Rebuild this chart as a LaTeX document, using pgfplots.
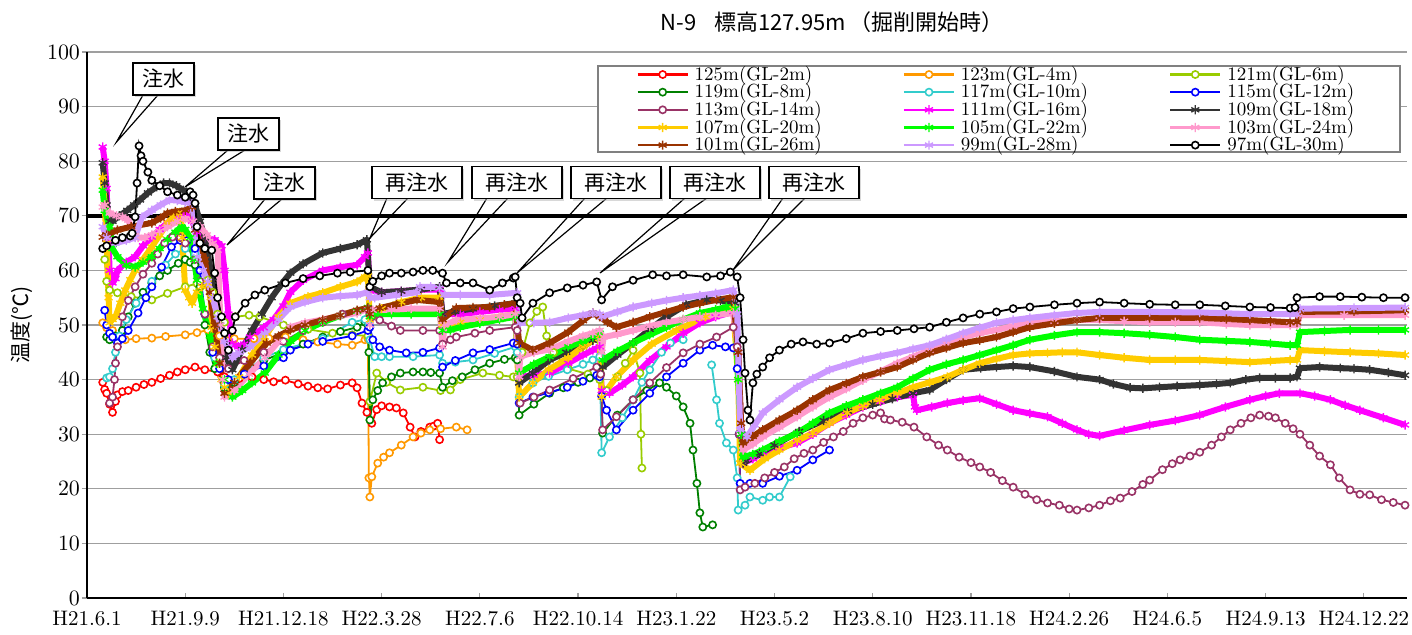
\documentclass[border=0pt]{standalone}
\usepackage{fontspec}
\usepackage{pgfplots}
\pgfplotsset{compat=1.18}
\usetikzlibrary{shadows}
\newfontfamily\jp{Noto Sans CJK JP}
\definecolor{cA}{HTML}{FF0000}
\definecolor{cB}{HTML}{FF9900}
\definecolor{cC}{HTML}{99CC00}
\definecolor{cD}{HTML}{008000}
\definecolor{cE}{HTML}{33CCCC}
\definecolor{cF}{HTML}{0000FF}
\definecolor{cG}{HTML}{993366}
\definecolor{cH}{HTML}{FF00FF}
\definecolor{cI}{HTML}{333333}
\definecolor{cJ}{HTML}{FFCC00}
\definecolor{cK}{HTML}{00FF00}
\definecolor{cL}{HTML}{FF99CC}
\definecolor{cM}{HTML}{993300}
\definecolor{cN}{HTML}{CC99FF}
\newcommand{\legtxt}[1]{\makebox[94pt][l]{#1}}
\pgfplotsset{
  circ/.style={color=#1, line width=0.9pt, mark=*, mark size=1.8pt, mark options={fill=white, draw=#1, line width=0.8pt, solid}},
  star/.style={color=#1, line width=3pt, line join=round, mark=asterisk, mark size=2.3pt, mark options={draw=#1, line width=0.7pt, solid}},
}
\tikzset{co/.style={draw=black, fill=white, line width=0.8pt, minimum height=16pt, inner sep=0pt, font=\jp\fontsize{10.5}{10.5}\selectfont, drop shadow={shadow xshift=1.2pt, shadow yshift=-1.2pt, fill=black!30}}}
\begin{document}
\begin{tikzpicture}
\begin{axis}[
  at={(0,0)}, anchor=south west,
  scale only axis, width=660pt, height=273pt,
  xmin=0, xmax=1344, ymin=0, ymax=100,
  axis x line*=bottom, axis y line*=left,
  axis line style={line width=0.8pt, black, -},
  xtick={0,100,...,1300},
  xticklabels={H21.6.1,H21.9.9,H21.12.18,H22.3.28,H22.7.6,H22.10.14,H23.1.22,H23.5.2,H23.8.10,H23.11.18,H24.2.26,H24.6.5,H24.9.13,H24.12.22},
  ytick={0,10,...,100},
  ymajorgrids, grid style={draw=gray!75, line width=0.6pt},
  tick align=inside, major tick length=2.5pt,
  xtick style={draw=gray!75, line width=0.6pt},
  ytick style={draw=gray!75, line width=0.6pt, xshift=-2.5pt},
  xticklabel style={font=\fontsize{10.5}{10.5}\selectfont, yshift=-3pt},
  yticklabel style={font=\fontsize{11}{11}\selectfont},
  unbounded coords=jump,
  legend columns=3, legend cell align=left,
  legend image code/.code={\draw[mark repeat=2,mark phase=2,#1,line width=1.3pt] plot coordinates {(0pt,0pt) (12.5pt,0pt) (25pt,0pt)}; \path (27pt,0pt);},
  legend style={at={(0.4159,0.9753)}, anchor=north west, draw=none, fill=none, inner sep=0pt, row sep=0.2pt, font=\fontsize{9.5}{9.5}\selectfont, nodes={inner sep=0pt}, /tikz/every even column/.append style={column sep=10pt}},
]
\addplot[black, line width=2pt, forget plot] coordinates {(0,70) (1344,70)};
% 125m
\addplot[circ=cA] coordinates {(16,39.5)(18,38.2)(20,37.5)(23,35.5)(26,34)(29,36)(31,37.2)(36,37.8)(42,38)(50,38.6)(58,39.1)(66,39.5)(75,40.2)(84,40.8)(92,41.4)(100,41.8)(110,42.3)(120,41.8)(133,41.4)(140,40.5)(144,39.9)(155,40.2)(168,40.5)(180,40)(190,39.6)(202,39.9)(215,39.2)(225,38.8)(235,38.5)(245,38.3)(258,39)(270,39.4)(275,38.5)(280,35.7)(285,34)(290,32)(295,34.5)(300,35.2)(308,35)(315,34.8)(322,33.9)(329,31.3)(334,29.5)(340,30.5)(349,31.3)(353,31.5)(357,32)(359,29)};
\addlegendentry{\legtxt{125m(GL-2m)}}
% 123m
\addplot[circ=cB] coordinates {(16,50.4)(20,49.5)(26,49)(32,47.5)(39,47.3)(50,47.5)(66,47.6)(80,47.9)(100,48.2)(112,48.6)(123,49.1)(135,48)(150,47.5)(170,47.5)(185,47.6)(202,47.8)(220,47.3)(235,46.9)(255,46.5)(270,46.3)(283,47.3)(286,47.5)(287,22)(288,18.5)(290,22.2)(296,24.7)(302,25.8)(308,26.6)(320,28)(332,29.5)(340,30.2)(349,30.8)(360,31)(376,31.3)(387,30.8)};
\addlegendentry{\legtxt{123m(GL-4m)}}
% 121m
\addplot[circ=cC] coordinates {(18,62)(20,58)(23,56.4)(31,55.9)(45,55.2)(66,54.6)(82,55.8)(100,57)(112,57.6)(123,58.2)(128,56)(133,52)(140,50.5)(151,51.5)(165,51.8)(176,51.5)(200,50)(225,49.2)(250,48.5)(270,48.2)(286,48)(288,36)(295,41.2)(305,39.5)(319,38.1)(342,38.6)(360,38)(370,38.1)(380,40)(403,41.2)(420,40.8)(434,40.5)(438,40.5)(443,45)(451,50.4)(458,52.5)(464,53.3)(468,48)(475,45)(490,42)(510,41)(522,40)(529,38)(540,40.5)(548,43)(556,45.4)(563,41.2)(564,30)(565,23.8)};
\addlegendentry{\legtxt{121m(GL-6m)}}
% 119m
\addplot[circ=cD] coordinates {(20,47.8)(23,47.3)(29,48)(36,49)(42,51.5)(49,54)(57,56)(66,57.7)(74,59)(82,60)(93,61.3)(100,62)(105,61.5)(110,61)(115,57)(120,50)(125,45)(130,42)(140,38.5)(150,39.5)(160,41)(180,43.5)(200,45)(220,46.5)(240,47.8)(258,48.8)(275,49.6)(283,50.5)(286,50)(287,45)(288,32.6)(291,36.3)(296,38)(301,39.4)(310,40.5)(319,41.2)(332,41.4)(342,41.4)(350,41.3)(359,41.2)(362,38.6)(372,39.8)(382,40.5)(395,41.8)(410,43)(425,43.7)(436,44)(438,43.6)(440,33.5)(455,35.5)(471,37.5)(485,38.5)(500,39.5)(512,40.3)(523,41)(525,30.2)(540,33.5)(556,36.3)(570,38)(583,39.4)(590,38.6)(600,37)(607,35)(614,32)(617,27.1)(621,21)(624,15.6)(627,13)(637,13.4)};
\addlegendentry{\legtxt{119m(GL-8m)}}
% 117m
\addplot[circ=cE] coordinates {(20,40.3)(23,40.5)(26,42)(29,45)(33,48)(40,51)(50,54)(66,58)(80,61)(90,63)(100,64)(110,63)(115,58)(120,52)(130,44)(140,39)(150,40)(180,44)(200,45.5)(240,47.5)(270,50.5)(283,51)(287,50)(288,47.3)(293,44.2)(300,44.2)(308,44.2)(332,44.2)(359,44.5)(362,43)(375,43.2)(393,43.6)(415,44.8)(436,46)(438,45)(440,36.8)(454,39.4)(470,40.6)(489,41.8)(505,42.8)(515,43.6)(522,44.2)(524,26.6)(532,29.5)(545,33)(556,36.3)(565,39.5)(573,41.8)(585,45)(594,46.7)(607,47.3)(612,nan)(636,42.7)(641,36.3)(644,32)(651,28.4)(658,27.1)(662,22)(663,16.1)(670,17)(675,18.5)(688,17.9)(695,18.5)(705,18.5)(716,22.2)};
\addlegendentry{\legtxt{117m(GL-10m)}}
% 115m
\addplot[circ=cF] coordinates {(18,52.7)(20,50)(23,48.5)(26,47.8)(31,46.7)(36,47.5)(42,49)(52,52.2)(60,55)(66,57)(76,60.6)(86,64.3)(95,65.5)(102,65.5)(110,64)(115,60)(120,52)(128,45)(135,42)(144,40)(160,41)(180,42.5)(200,44)(207,45.4)(225,46.5)(240,47)(270,48)(286,49)(288,49.6)(291,47.3)(298,46)(308,45.4)(325,44.9)(342,45)(359,45.8)(362,42.3)(375,43.5)(393,44.9)(410,45.5)(434,46.7)(438,46.5)(440,35.7)(454,36.8)(470,37.6)(489,38.6)(505,39.7)(519,40.8)(522,40.5)(524,37)(529,34.4)(539,30.8)(556,34.4)(573,37.5)(590,40.5)(607,43)(624,45.4)(637,46.3)(650,46)(658,45.8)(662,42)(664,30)(665,21)(675,21)(688,21)(705,22.3)(723,23.4)(739,25.3)(756,27.1)};
\addlegendentry{\legtxt{115m(GL-12m)}}
% 113m
\addplot[circ=cG] coordinates {(23,35.7)(26,36.8)(28,40)(29,43)(31,46)(36,51.5)(42,54.5)(49,57)(57,59.3)(66,61.3)(72,63)(79,65)(87,66.1)(95,66)(100,65)(110,62)(115,58)(120,52)(128,46)(135,44)(144,42)(160,43.5)(180,45)(200,47)(220,49)(240,50.5)(260,52)(286,53)(288,52)(290,51.5)(298,50.9)(310,49.8)(319,49)(342,49)(359,49)(362,46.5)(370,47.3)(376,47.8)(395,48.5)(410,49)(436,49.6)(438,49)(441,35.7)(455,36.8)(471,38.1)(495,40.2)(519,42.3)(523,41)(525,30.8)(539,33.2)(556,36.3)(573,39.4)(590,42.2)(607,44.9)(624,46.5)(641,47.8)(658,49.6)(662,46)(664,30)(665,19.8)(670,20.3)(680,21)(690,22)(700,23)(710,24)(720,25.5)(730,26.5)(739,27.1)(750,28.5)(760,29.5)(770,30.5)(780,32)(790,33)(800,33.5)(808,33.9)(812,32.8)(818,32.6)(830,32.2)(842,31.3)(855,29.5)(867,28)(876,27.1)(888,25.8)(900,24.8)(909,24)(920,23)(932,21.5)(943,20.3)(955,19)(967,18)(978,17.4)(990,17)(1000,16.3)(1008,16.1)(1020,16.5)(1031,17)(1042,17.8)(1052,18.3)(1064,19.5)(1075,20.8)(1082,21.6)(1095,23.5)(1105,24.6)(1113,25.3)(1123,26)(1133,26.7)(1145,28)(1155,29.5)(1164,30.8)(1175,32)(1185,33)(1194,33.5)(1203,33.3)(1210,33)(1220,32)(1228,31)(1235,30)(1245,28)(1255,26)(1266,24.4)(1275,22)(1286,19.8)(1296,19)(1306,18.9)(1318,18)(1330,17.5)(1342,17)};
\addlegendentry{\legtxt{113m(GL-14m)}}
% 111m
\addplot[star=cH] coordinates {(16,82.6)(18,80)(20,75)(22,65)(23,60)(26,57.7)(29,58.5)(31,60)(40,61.5)(49,62.5)(57,64.5)(66,66.1)(74,67.5)(82,68.7)(92,69.8)(100,70.5)(107,69)(112,67)(120,66)(130,65.6)(137,64.5)(140,60)(144,52)(148,46.7)(154,46)(160,46.5)(166,47.8)(180,49.5)(190,51)(200,53.5)(207,56)(220,58.2)(240,60)(258,60.6)(275,61)(283,62.5)(286,63.2)(288,56.4)(300,56)(320,56.2)(340,56.5)(359,56.5)(362,52)(380,52)(400,52.4)(420,52.8)(436,53)(440,40.5)(455,40.8)(471,41.2)(490,43)(505,44.5)(515,45.4)(522,46)(524,38)(532,37.5)(545,39)(556,40.5)(573,43.5)(590,46)(607,48.5)(624,50.4)(640,51.5)(658,52.4)(663,45)(666,30)(668,24.7)(678,25.5)(688,26.6)(705,27.5)(723,28.4)(739,30)(756,32)(773,33.5)(790,35)(808,36)(825,36.8)(841,37.2)(843,35)(845,34.4)(860,35)(876,35.7)(892,36.2)(909,36.6)(926,35.5)(943,34.4)(960,33.8)(978,33.2)(993,32)(1008,30.8)(1020,30)(1031,29.7)(1056,30.7)(1082,31.7)(1108,32.5)(1133,33.5)(1159,35)(1184,36.3)(1200,37)(1214,37.5)(1235,37.5)(1250,37)(1266,36.3)(1281,35.3)(1296,34.4)(1320,33)(1342,31.7)};
\addlegendentry{\legtxt{111m(GL-16m)}}
% 109m
\addplot[star=cI] coordinates {(16,79.7)(18,76)(20,72)(23,69)(26,69)(33,70)(41,71)(48,72)(54,72.9)(62,74.2)(71,75.3)(78,76)(84,76)(91,75.5)(98,74.7)(105,73.5)(110,72)(115,69)(120,66)(128,58)(135,50)(142,44)(148,41.8)(158,45.5)(168,49)(178,52)(188,55)(198,57.5)(207,59.5)(220,61.2)(240,63.2)(258,64)(275,64.7)(285,65.6)(288,57)(300,56)(320,56.2)(340,56.5)(359,57)(362,52)(375,52.5)(393,53)(415,53.5)(436,54)(440,39.4)(454,41.2)(471,43.6)(488,45)(505,46)(515,47.2)(522,48)(525,42.3)(540,44.5)(556,46.7)(573,49.2)(590,51.5)(610,53.7)(631,54.6)(645,54.5)(660,54)(663,45)(666,30)(668,24.7)(685,26.5)(700,28)(725,30.5)(750,32.5)(775,34.2)(800,35.5)(820,36.5)(841,37.5)(858,38.1)(875,40)(892,41.8)(910,42.1)(926,42.3)(943,42.5)(960,42.3)(985,41.5)(1008,40.5)(1031,40)(1045,39.2)(1062,38.5)(1075,38.4)(1092,38.6)(1110,38.8)(1133,39)(1150,39.2)(1164,39.4)(1180,40)(1194,40.3)(1210,40.3)(1225,40.3)(1232,40.5)(1235,42.1)(1255,42.3)(1276,42.1)(1290,42)(1306,41.8)(1325,41.3)(1342,40.8)};
\addlegendentry{\legtxt{109m(GL-18m)}}
% 107m
\addplot[star=cJ] coordinates {(16,77.1)(18,72)(20,65)(22,55)(23,50.4)(26,51)(29,51.5)(34,54)(39,56.4)(44,58.3)(49,60)(57,62)(66,64.3)(74,66.5)(82,68.7)(88,69.8)(93,70.5)(95,69)(97,66)(100,56.4)(104,55)(107,54)(112,56)(117,57)(123,57.7)(126,55)(127,49.6)(130,46)(133,43)(137,40)(140,38.6)(144,37.5)(155,40.5)(168,44.5)(181,47.8)(195,51.5)(207,54)(225,55.2)(240,55.9)(258,57)(275,57.9)(283,58.8)(286,59)(288,50.9)(300,53)(320,54.2)(340,55)(359,55)(362,50)(380,50.5)(400,51)(420,51.5)(436,52)(440,36.8)(454,39.4)(470,41.8)(490,44)(505,46)(522,48)(524,36.8)(539,40.5)(556,43.6)(575,46.5)(600,49)(630,51.5)(658,53)(663,40)(665,24.7)(675,23.4)(690,25.5)(705,27.1)(723,28.8)(739,30.2)(756,32)(774,33.9)(790,35.2)(807,36.3)(825,37.5)(841,38.6)(858,39.5)(876,40.5)(892,41.8)(909,43)(926,43.8)(943,44.5)(960,44.8)(978,44.9)(993,45)(1008,45)(1031,44.5)(1056,44)(1082,43.6)(1108,43.6)(1133,43.6)(1160,43.4)(1184,43.2)(1205,43.4)(1225,43.6)(1232,43.6)(1235,45.4)(1260,45.2)(1286,45)(1315,44.8)(1342,44.5)};
\addlegendentry{\legtxt{107m(GL-20m)}}
% 105m
\addplot[star=cK] coordinates {(16,74.7)(18,71)(23,68)(26,64)(31,62.5)(40,61)(49,60.6)(57,61.5)(66,62.5)(74,64)(82,65.6)(90,67)(96,68)(100,67.5)(105,66)(109,62)(112,58.2)(118,53)(125,48)(132,43)(140,40)(148,36.8)(158,38)(168,39.4)(181,41.2)(195,44.5)(207,47)(222,49)(240,50.5)(258,51.7)(275,52.5)(286,53.2)(288,51.5)(293,52)(310,52)(330,52)(359,52)(362,49)(370,49.1)(380,49.6)(400,50.3)(420,51)(436,51.5)(440,41.2)(455,42.8)(471,44.2)(490,46)(505,47)(515,47.8)(522,48.5)(525,43.6)(540,45.2)(556,46.7)(573,48.2)(590,49.6)(607,51)(624,52.2)(640,52.8)(651,53.3)(660,53)(663,40)(666,30)(668,25.8)(678,26.3)(688,27.1)(705,28.7)(723,30.2)(739,32)(756,33.9)(773,35.2)(790,36.3)(808,37.5)(825,38.6)(841,40.2)(858,41.8)(875,42.8)(892,43.6)(909,44.5)(926,45.4)(943,46.3)(960,47.3)(985,48.1)(1008,48.7)(1031,48.7)(1056,48.5)(1082,48.2)(1108,47.8)(1133,47.3)(1160,47.1)(1184,46.9)(1205,46.6)(1225,46.3)(1232,46.3)(1235,48.7)(1260,48.9)(1286,49.1)(1315,49.1)(1342,49.1)};
\addlegendentry{\legtxt{105m(GL-22m)}}
% 103m
\addplot[star=cL] coordinates {(16,71.6)(18,72)(23,70.5)(30,70)(36,69.8)(42,69.2)(47,67)(52,66)(59,66)(66,66.5)(74,67.2)(82,68)(92,69)(100,69.5)(108,69)(115,68)(122,66.5)(128,65)(133,63.7)(136,50)(138,40)(140,36.8)(150,38)(165,41)(181,44)(195,47)(207,49.6)(222,50.4)(240,51)(258,51.7)(275,52.2)(286,53)(288,50)(291,52.7)(310,52.8)(330,53)(359,53)(362,46)(364,50)(376,50.9)(400,51.2)(420,51.5)(436,52)(440,40.5)(441,44.2)(455,45)(471,45.5)(490,47)(505,48)(515,48.5)(522,49)(524,45)(526,47.8)(540,48.3)(556,49)(573,49.8)(590,50.5)(607,51)(624,51.5)(640,51.8)(658,52.2)(663,45)(666,32)(668,27.1)(678,28.2)(688,29.5)(705,31.3)(723,33.2)(739,35)(756,36.8)(773,38.3)(790,39.9)(808,41.5)(825,43)(841,44.2)(858,45.4)(875,46.6)(892,47.8)(909,48.5)(926,49.1)(943,49.8)(960,50.4)(985,50.7)(1008,50.9)(1031,50.9)(1056,50.7)(1082,50.5)(1108,50.5)(1133,50.5)(1160,50.2)(1184,50)(1205,50)(1225,50)(1232,50)(1235,51.8)(1280,51.8)(1342,51.8)};
\addlegendentry{\legtxt{103m(GL-24m)}}
% 101m
\addplot[star=cM] coordinates {(16,66.1)(20,66.5)(31,67.4)(45,68)(66,68.7)(75,69.6)(82,70.5)(90,70.8)(100,71)(107,71.6)(110,67.4)(115,65)(120,62)(125,56)(130,50)(135,43)(140,37.5)(150,39.5)(166,43)(183,46.7)(195,48)(207,49.1)(222,50)(240,50.9)(258,51.8)(275,52.7)(286,53.1)(288,52)(298,53.1)(315,53.8)(336,54.6)(359,54.2)(362,51)(376,53.1)(393,53.2)(410,53.3)(425,53.7)(436,54)(440,46.7)(454,45.4)(471,46.7)(490,48.7)(505,50.8)(515,52.2)(522,51.5)(530,50.5)(539,49.6)(556,50.5)(573,51.5)(590,52.4)(607,53.3)(624,54)(641,54.6)(658,55.1)(663,45)(666,32)(668,28.4)(678,29.6)(688,30.8)(705,32.6)(723,34.4)(739,36.3)(756,38.1)(773,39.3)(790,40.5)(808,41.4)(825,42.3)(841,43.6)(858,44.9)(875,45.8)(892,46.7)(909,47.2)(926,47.8)(943,48.7)(960,49.6)(985,50.3)(1008,50.9)(1031,51.3)(1082,51.3)(1133,51.3)(1160,51.1)(1184,50.9)(1205,50.7)(1225,50.5)(1232,50.5)(1235,52.4)(1290,52.5)(1342,52.7)};
\addlegendentry{\legtxt{101m(GL-26m)}}
% 99m
\addplot[star=cN] coordinates {(16,68)(20,66)(29,65)(40,65.5)(49,66)(56,69.8)(66,71)(75,72)(84,72.9)(92,72.8)(100,72.5)(107,72.3)(110,68)(112,62.5)(118,60)(123,58)(128,55)(133,51.5)(140,47)(144,46)(148,44)(155,45)(166,46)(181,48.5)(195,51)(207,53.3)(222,54.2)(240,55)(258,55.3)(275,55.5)(286,56)(288,55)(293,55)(315,55.5)(336,56)(339,57)(350,57)(359,56.8)(364,55.5)(380,55.5)(410,55.5)(438,55.9)(441,50.4)(455,50.4)(471,50.5)(490,51.3)(505,51.8)(515,52.2)(522,52)(524,51.5)(540,52.4)(556,53.3)(575,54)(590,54.5)(607,55)(624,55.4)(640,55.8)(658,56.4)(662,52)(665,30.8)(672,29.5)(680,31.7)(688,33.9)(705,36.3)(723,38.6)(739,40.2)(756,41.8)(773,42.7)(790,43.6)(808,44.3)(825,44.9)(841,45.6)(858,46.3)(875,47.4)(892,48.5)(909,49.5)(926,50.4)(943,50.9)(960,51.3)(985,51.8)(1008,52.2)(1031,52.4)(1082,52.4)(1133,52.3)(1184,52)(1225,52)(1232,52)(1235,53)(1290,53.1)(1342,53.2)};
\addlegendentry{\legtxt{99m(GL-28m)}}
% 97m
\addplot[circ=black] coordinates {(16,64)(20,64.5)(29,65.5)(36,66)(44,66.3)(46,66.8)(49,69.8)(51,76)(53,82.8)(55,81)(57,80)(62,78)(66,76.5)(74,75.5)(82,74.4)(92,73.8)(100,73.4)(105,74.4)(108,73.8)(110,72.3)(112,68)(115,65)(120,64)(127,63.7)(130,59.5)(133,55)(137,51.5)(140,48.5)(144,45.4)(148,49)(151,51.5)(161,54)(171,55.5)(181,56.4)(202,57.7)(220,58.5)(237,59)(255,59.5)(268,59.7)(286,60)(288,57)(291,58)(300,59)(308,59.5)(320,59.5)(332,59.7)(342,60)(352,60)(362,59.5)(366,57.7)(380,57.7)(393,57.7)(410,56.4)(423,57.7)(434,58.6)(436,58.8)(438,55)(441,54)(443,51.3)(454,54)(471,55.9)(489,56.8)(505,57.3)(519,57.9)(524,54.6)(535,57)(556,58.2)(576,59.2)(590,59)(607,59.2)(631,58.8)(645,59)(655,59.7)(662,58.8)(665,55)(668,47.3)(670,41.2)(673,34.4)(675,32.6)(678,39.4)(682,41)(688,42.3)(695,44)(705,45.4)(717,46.5)(729,46.9)(743,46.5)(756,46.7)(773,47.5)(790,48.5)(808,48.8)(825,49)(842,49.3)(858,49.6)(875,50.5)(892,51.3)(909,52)(926,52.4)(943,53)(960,53.3)(985,53.7)(1008,54)(1031,54.2)(1056,54)(1082,53.8)(1108,53.7)(1133,53.7)(1159,53.5)(1184,53.3)(1205,53.2)(1225,53.1)(1230,53.2)(1232,55)(1255,55.2)(1276,55.2)(1298,55.1)(1320,55)(1342,55)};
\addlegendentry{\legtxt{97m(GL-30m)}}
\draw[gray, line width=0.6pt, fill=white] (rel axis cs:0.38712,0.81685) rectangle (rel axis cs:0.99470,0.97436);
\end{axis}
% callouts
\begin{scope}[line width=0.6pt]
\draw (28pt,251.5pt) -- (14.75pt,228pt) -- (35.5pt,251.5pt);
\node[co, minimum width=30.5pt] at (38.25pt,259.5pt) {注水};
\draw (70.5pt,224pt) -- (49pt,205.5pt) -- (79pt,224pt);
\node[co, minimum width=30.5pt] at (80.75pt,232pt) {注水};
\draw (89pt,199.5pt) -- (70pt,176.5pt) -- (97.5pt,199.5pt);
\node[co, minimum width=30.5pt] at (98.75pt,207.5pt) {注水};
\draw (150pt,200pt) -- (141.5pt,180pt) -- (160.5pt,200pt);
\node[co, minimum width=45pt] at (165pt,207.75pt) {再注水};
\draw (200pt,200pt) -- (180.5pt,168pt) -- (210.5pt,200pt);
\node[co, minimum width=45pt] at (215pt,207.75pt) {再注水};
\draw (249pt,200pt) -- (215pt,162.5pt) -- (260pt,200pt);
\node[co, minimum width=45pt] at (264.5pt,207.75pt) {再注水};
\draw (299pt,200pt) -- (256.5pt,162.5pt) -- (310pt,200pt);
\node[co, minimum width=45pt] at (314pt,207.75pt) {再注水};
\draw (348pt,200pt) -- (323pt,164pt) -- (359pt,200pt);
\node[co, minimum width=45pt] at (363.5pt,207.75pt) {再注水};
\end{scope}
\node[font=\jp\fontsize{11}{11}\selectfont] at (372.5pt,288pt) {N-9\hspace{0.8em}標高127.95m\hspace{0.15em}（掘削開始時）};
\node[rotate=90, font=\jp\fontsize{10.5}{10.5}\selectfont] at (-32.5pt,136.5pt) {温度(℃)};
\pgfresetboundingbox
\path[use as bounding box] (-43.5pt,-18pt) rectangle (662.5pt,299pt);
\end{tikzpicture}
\end{document}
